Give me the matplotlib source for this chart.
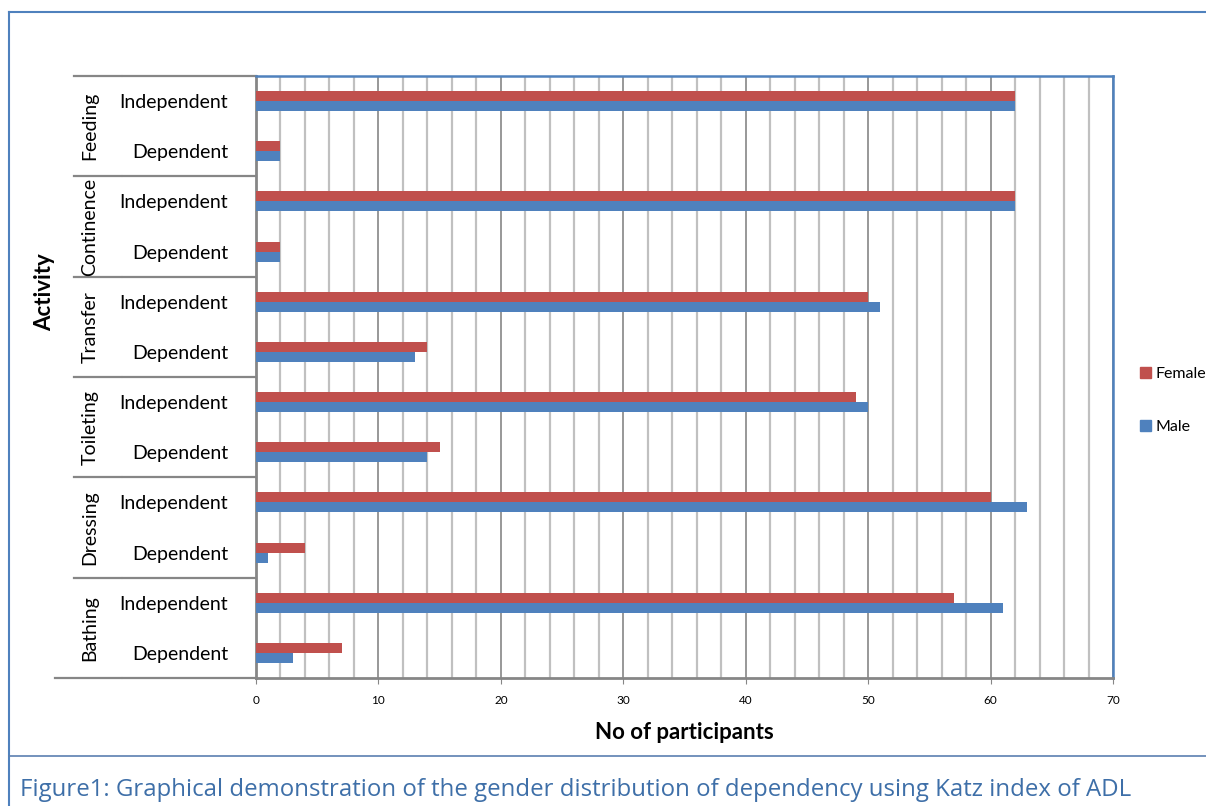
import matplotlib.pyplot as plt
import numpy as np
from matplotlib.lines import Line2D
from matplotlib.transforms import blended_transform_factory

plt.rcParams["font.family"] = ["Lato", "DejaVu Sans"]

ACTIVITIES = ["Feeding", "Continence", "Transfer", "Toileting", "Dressing", "Bathing"]
LEVELS = ["Independent", "Dependent"]
FEMALE = [62, 2, 62, 2, 50, 14, 49, 15, 60, 4, 57, 7]
MALE = [62, 2, 62, 2, 51, 13, 50, 14, 63, 1, 61, 3]
X_TICKS = [0, 10, 20, 30, 40, 50, 60, 70]

RED = "#C0504D"
BLUE = "#4F81BD"
FRAME = "#4F81BD"
GRID_MAJOR = "#868686"
GRID_MINOR = "#C0C0C0"

W, H = 1206, 806
fig = plt.figure(figsize=(W / 100, H / 100), dpi=100)


def fx(px):
    return px / W


def fy(py):
    return 1 - py / H


left, right, top, bottom = 256, 1113, 76, 678
ax = fig.add_axes([fx(left), fy(bottom), fx(right - left), fy(top) - fy(bottom)])

n = len(FEMALE)
pos = np.arange(n)
bh = 0.2
ax.barh(pos - bh / 2, FEMALE, height=bh, color=RED, label="Female", zorder=3)
ax.barh(pos + bh / 2, MALE, height=bh, color=BLUE, label="Male", zorder=3)

ax.set_xlim(0, 70)
ax.set_ylim(n - 0.5, -0.5)

ax.set_xticks(X_TICKS)
ax.set_xticklabels([str(t) for t in X_TICKS], fontsize=8.5)
ax.set_xticks(np.arange(0, 71, 2), minor=True)
ax.grid(which="minor", axis="x", color=GRID_MINOR, linewidth=1.6, zorder=0)
ax.grid(which="major", axis="x", color=GRID_MAJOR, linewidth=1.2, zorder=1)
ax.tick_params(axis="x", which="major", length=4, color=GRID_MAJOR, pad=8)
ax.tick_params(axis="x", which="minor", length=0)

ax.set_yticks(pos)
ax.set_yticklabels([LEVELS[i % 2] for i in range(n)], fontsize=14)
ax.tick_params(axis="y", length=0, pad=20)

for s in ["top", "right"]:
    ax.spines[s].set_color(FRAME)
    ax.spines[s].set_linewidth(1.8)
for s in ["left", "bottom"]:
    ax.spines[s].set_color(GRID_MAJOR)
    ax.spines[s].set_linewidth(2)

# group labels and separators for the two-level category axis
tr = blended_transform_factory(ax.transAxes, ax.transData)
width_px = right - left
xa = lambda px: (px - left) / width_px
for g, name in enumerate(ACTIVITIES):
    ax.text(xa(90), 2 * g + 0.5, name, rotation=90, ha="center", va="center",
            fontsize=14, transform=tr, clip_on=False)
for g in range(len(ACTIVITIES) + 1):
    yv = 2 * g - 0.5
    x0 = 55 if g == len(ACTIVITIES) else 74
    ax.plot([xa(x0), xa(121)], [yv, yv], color=GRID_MAJOR, lw=1.6,
            transform=tr, clip_on=False)
    ax.plot([xa(123), 0], [yv, yv], color=GRID_MAJOR, lw=1.6,
            transform=tr, clip_on=False)

ax.set_xlabel("No of participants", fontsize=16, fontweight="bold", labelpad=12)
fig.text(fx(45), fy(292), "Activity", rotation=90, ha="center", va="center",
         fontsize=16, fontweight="bold")

handles = [
    plt.Rectangle((0, 0), 1, 1, color=RED),
    plt.Rectangle((0, 0), 1, 1, color=BLUE),
]
fig.legend(handles, ["Female", "Male"], loc="upper left",
           bbox_to_anchor=(fx(1140), fy(367)), frameon=False, fontsize=11.5,
           handlelength=0.7, handleheight=0.7, handletextpad=0.3,
           labelspacing=2.4, borderaxespad=0, borderpad=0)

# outer chart frame
fig.add_artist(Line2D([fx(9), fx(9)], [fy(12), 0], color=FRAME, lw=1.5))
fig.add_artist(Line2D([fx(9), 1], [fy(12), fy(12)], color=FRAME, lw=1.5))
fig.add_artist(Line2D([fx(9), 1], [fy(756), fy(756)], color="#5B7FB0", lw=1.2))

fig.text(fx(20), fy(790),
         "Figure1: Graphical demonstration of the gender distribution of dependency using Katz index of ADL",
         fontsize=17.3, color="#3E6FA8", family=["Open Sans", "DejaVu Sans"],
         ha="left", va="center")

fig.savefig("out.png", dpi=100)
